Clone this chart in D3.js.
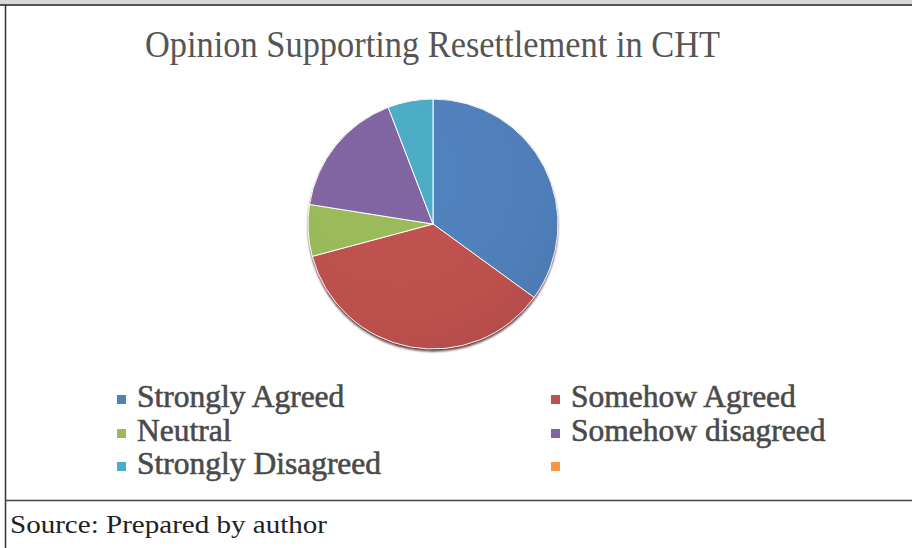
<!DOCTYPE html>
<html>
<head>
<meta charset="utf-8">
<script src="https://cdn.jsdelivr.net/npm/d3@7"></script>
<style>
  html, body { margin: 0; padding: 0; background: #fff; }
  svg { display: block; }
  text { font-family: "Liberation Serif", "Times New Roman", Times, serif; }
</style>
</head>
<body>
<svg id="chart" width="912" height="548"></svg>
<script>
// Survey responses on resettlement in CHT
const categories = ["Strongly Agreed", "Somehow Agreed", "Neutral", "Somehow disagreed", "Strongly Disagreed", ""];
const values = [42, 43, 8, 20, 7, 0];
const colors = ["#4f81bd", "#c0504d", "#9bbb59", "#8064a2", "#4bacc6", "#f79646"];
const title = "Opinion Supporting Resettlement in CHT";
const source = "Source: Prepared by author";

const svg = d3.select("#chart");
const W = 912, H = 548;

// frame: grey band on top, left rule, rule above the source line
svg.append("rect").attr("x", 0).attr("y", 0).attr("width", W).attr("height", 4).attr("fill", "#d9d9d9");
svg.append("line").attr("x1", 0).attr("x2", W).attr("y1", 5).attr("y2", 5).attr("stroke", "#555").attr("stroke-width", 2);
svg.append("line").attr("x1", 5.5).attr("x2", 5.5).attr("y1", 5).attr("y2", H).attr("stroke", "#333").attr("stroke-width", 1.5);
svg.append("line").attr("x1", 5).attr("x2", W).attr("y1", 500.5).attr("y2", 500.5).attr("stroke", "#444").attr("stroke-width", 1.5);

// title
svg.append("text")
  .attr("x", 145).attr("y", 57)
  .attr("font-size", 37)
  .attr("fill", "#555")
  .attr("textLength", 575).attr("lengthAdjust", "spacingAndGlyphs")
  .text(title);

// pie
const cx = 433, cy = 224, r = 125;
const defs = svg.append("defs");
const shadow = defs.append("filter").attr("id", "shadow")
  .attr("x", "-20%").attr("y", "-20%").attr("width", "140%").attr("height", "140%");
shadow.append("feDropShadow").attr("dx", 0).attr("dy", 2.5).attr("stdDeviation", 1.2)
  .attr("flood-color", "#3a1010").attr("flood-opacity", 0.85);

const shade = defs.append("radialGradient").attr("id", "shade")
  .attr("cx", "35%").attr("cy", "30%").attr("r", "80%");
shade.append("stop").attr("offset", "0%").attr("stop-color", "#fff").attr("stop-opacity", 0.0);
shade.append("stop").attr("offset", "100%").attr("stop-color", "#000").attr("stop-opacity", 0.06);

const pie = d3.pie().sort(null).value(d => d.v);
const arcs = pie(categories.map((c, i) => ({ c, v: values[i], col: colors[i] })));
const arc = d3.arc().innerRadius(0).outerRadius(r);

const g = svg.append("g").attr("transform", `translate(${cx},${cy})`);
g.append("circle").attr("r", r).attr("fill", "#c0504d").attr("filter", "url(#shadow)");
g.selectAll("path.slice").data(arcs.filter(d => d.data.v > 0)).enter().append("path")
  .attr("class", "slice")
  .attr("d", arc)
  .attr("fill", d => d.data.col)
  .attr("stroke", "#fff").attr("stroke-width", 1);
g.append("circle").attr("r", r).attr("fill", "url(#shade)").attr("pointer-events", "none");

// legend, two columns
const colX = [117, 551], rowY = [407, 441, 474];
const leg = svg.append("g");
categories.forEach((c, i) => {
  const x = colX[i % 2], y = rowY[Math.floor(i / 2)];
  leg.append("rect").attr("x", x).attr("y", y - 12).attr("width", 9).attr("height", 9).attr("fill", colors[i]);
  if (c) {
    leg.append("text")
      .attr("x", x + 20).attr("y", y)
      .attr("font-size", 31.5)
      .attr("fill", "#4a4a4a")
      .attr("stroke", "#4a4a4a").attr("stroke-width", 0.6)
      .text(c);
  }
});

// source note
svg.append("text")
  .attr("x", 10).attr("y", 533)
  .attr("font-size", 26)
  .attr("fill", "#222")
  .attr("textLength", 317).attr("lengthAdjust", "spacingAndGlyphs")
  .text(source);
</script>
</body>
</html>
